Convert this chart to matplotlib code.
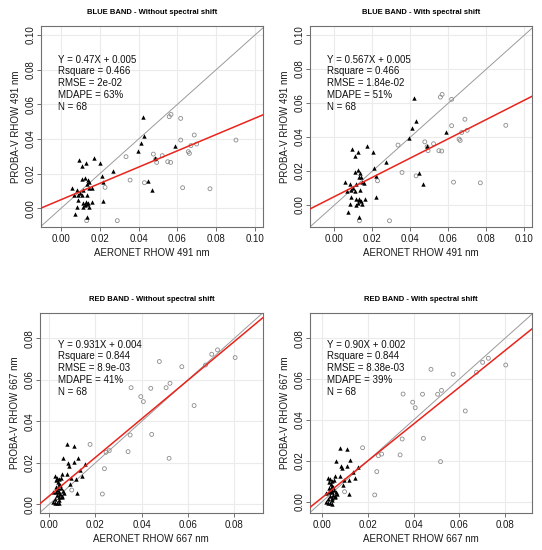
import matplotlib
matplotlib.use("Agg")
import matplotlib.pyplot as plt
import numpy as np

plt.rcParams['font.family'] = ['Liberation Sans', 'DejaVu Sans']

# ---------------- BLUE BAND (491 nm) ----------------
blue_tri_x = [0.0421, 0.0430, 0.0411, 0.0395, 0.0588, 0.0485, 0.0447, 0.0467,
              0.0172, 0.0201, 0.0093, 0.0127, 0.0108, 0.0270, 0.0210, 0.0218,
              0.0124, 0.0108, 0.0137, 0.0142, 0.0132, 0.0158, 0.0146, 0.0055,
              0.0084, 0.0112, 0.0098, 0.0067, 0.0089, 0.0107, 0.0136, 0.0086,
              0.0129, 0.0162, 0.0218, 0.0112, 0.0141, 0.0132, 0.0124, 0.0115,
              0.0084, 0.0146, 0.0074, 0.0132]
blue_tri_y_noshift = [0.0529, 0.0417, 0.0379, 0.0333, 0.0362, 0.0292, 0.0158, 0.0106,
                      0.0292, 0.0260, 0.0277, 0.0263, 0.0244, 0.0215, 0.0187, 0.0152,
                      0.0173, 0.0167, 0.0163, 0.0154, 0.0140, 0.0115, 0.0115, 0.0115,
                      0.0106, 0.0106, 0.0090, 0.0077, 0.0077, 0.0077, 0.0077, 0.0048,
                      0.0038, 0.0037, 0.0044, 0.0033, 0.0029, 0.0023, 0.0017, 0.0006,
                      0.0010, 0.0010, -0.0033, -0.0052]
blue_tri_y_shift = [0.0631, 0.0496, 0.0451, 0.0396, 0.0429, 0.0347, 0.0186, 0.0122,
                    0.0347, 0.0310, 0.0327, 0.0312, 0.0288, 0.0251, 0.0216, 0.0173,
                    0.0206, 0.0194, 0.0186, 0.0163, 0.0165, 0.0131, 0.0135, 0.0135,
                    0.0124, 0.0124, 0.0102, 0.0084, 0.0090, 0.0082, 0.0086, 0.0049,
                    0.0035, 0.0035, 0.0045, 0.0033, 0.0024, 0.0029, 0.0014, -0.0002,
                    0.0006, 0.0006, -0.0043, -0.0069]
blue_circ_x = [0.0567, 0.0558, 0.0617, 0.0687, 0.0617, 0.0902, 0.0699, 0.0670,
               0.0656, 0.0662, 0.0522, 0.0476, 0.0335, 0.0488, 0.0493, 0.0550,
               0.0565, 0.0356, 0.0430, 0.0227, 0.0627, 0.0768, 0.0132, 0.0290]
blue_circ_y_noshift = [0.0542, 0.0529, 0.0519, 0.0423, 0.0394, 0.0394, 0.0371, 0.0362,
                       0.0327, 0.0317, 0.0304, 0.0313, 0.0298, 0.0283, 0.0265, 0.0269,
                       0.0265, 0.0163, 0.0148, 0.0121, 0.0119, 0.0113, -0.0071, -0.0071]
blue_circ_y_shift = [0.0651, 0.0635, 0.0622, 0.0505, 0.0467, 0.0469, 0.0440, 0.0427,
                     0.0388, 0.0380, 0.0361, 0.0372, 0.0353, 0.0343, 0.0320, 0.0320,
                     0.0318, 0.0192, 0.0172, 0.0143, 0.0135, 0.0131, -0.0092, -0.0092]

# ---------------- RED BAND (667 nm) ----------------
red_tri_x = [0.0076, 0.0109, 0.0059, 0.0124, 0.0081, 0.0086, 0.0108, 0.0155,
             0.0134, 0.0076, 0.0058, 0.0142, 0.0095, 0.0117, 0.0027, 0.0033,
             0.0042, 0.0050, 0.0091, 0.0037, 0.0045, 0.0030, 0.0040, 0.0052,
             0.0019, 0.0030, 0.0042, 0.0059, 0.0119, 0.0047, 0.0036, 0.0055,
             0.0045, 0.0016, 0.0024, 0.0033, 0.0042, 0.0026, 0.0045, 0.0058,
             0.0036, 0.0047, 0.0065, 0.0030]
red_tri_y_noshift = [0.0291, 0.0281, 0.0225, 0.0225, 0.0198, 0.0186, 0.0202, 0.0193,
                     0.0165, 0.0145, 0.0145, 0.0138, 0.0129, 0.0122, 0.0137, 0.0129,
                     0.0122, 0.0125, 0.0098, 0.0109, 0.0096, 0.0085, 0.0077, 0.0077,
                     0.0061, 0.0061, 0.0061, 0.0064, 0.0053, 0.0050, 0.0045, 0.0042,
                     0.0034, 0.0013, 0.0008, 0.0005, 0.0006, 0.0026, 0.0021, 0.0037,
                     0.0069, 0.0093, 0.0053, 0.0117]
red_tri_y_shift = [0.0264, 0.0258, 0.0199, 0.0202, 0.0176, 0.0167, 0.0176, 0.0170,
                   0.0144, 0.0124, 0.0124, 0.0118, 0.0104, 0.0104, 0.0116, 0.0110,
                   0.0102, 0.0104, 0.0080, 0.0088, 0.0078, 0.0066, 0.0060, 0.0059,
                   0.0044, 0.0046, 0.0045, 0.0047, 0.0036, 0.0034, 0.0030, 0.0027,
                   0.0019, -0.0001, -0.0005, -0.0008, -0.0013, 0.0011, 0.0007, 0.0022,
                   0.0052, 0.0074, 0.0038, 0.0097]
red_circ_x = [0.0803, 0.0727, 0.0702, 0.0675, 0.0573, 0.0476, 0.0522, 0.0505,
              0.0439, 0.0354, 0.0396, 0.0407, 0.0626, 0.0350, 0.0443, 0.0341,
              0.0518, 0.0177, 0.0260, 0.0246, 0.0239, 0.0230, 0.0098, 0.0040]
red_circ_y_noshift = [0.0707, 0.0744, 0.0723, 0.0671, 0.0663, 0.0688, 0.0583, 0.0562,
                      0.0559, 0.0562, 0.0519, 0.0495, 0.0476, 0.0334, 0.0337, 0.0254,
                      0.0222, 0.0289, 0.0259, 0.0251, 0.0172, 0.0050, 0.0069, 0.0032]
red_circ_y_shift = [0.0669, 0.0702, 0.0682, 0.0633, 0.0624, 0.0648, 0.0545, 0.0526,
                    0.0526, 0.0527, 0.0487, 0.0460, 0.0444, 0.0307, 0.0310, 0.0229,
                    0.0196, 0.0264, 0.0233, 0.0225, 0.0147, 0.0033, 0.0049, 0.0015]

# regression coefficients (slope, intercept) and annotation texts
titles = ["BLUE BAND - Without spectral shift", "BLUE BAND - With spectral shift",
          "RED BAND - Without spectral shift", "RED BAND - With spectral shift"]
slopes = [0.47, 0.567, 0.931, 0.90]
intercepts = [0.005, 0.005, 0.004, 0.002]
stats_text = [
    "Y = 0.47X + 0.005\nRsquare = 0.466\nRMSE = 2e-02\nMDAPE = 63%\nN = 68",
    "Y = 0.567X + 0.005\nRsquare = 0.466\nRMSE = 1.84e-02\nMDAPE = 51%\nN = 68",
    "Y = 0.931X + 0.004\nRsquare = 0.844\nRMSE = 8.9e-03\nMDAPE = 41%\nN = 68",
    "Y = 0.90X + 0.002\nRsquare = 0.844\nRMSE = 8.38e-03\nMDAPE = 39%\nN = 68",
]
xlabels = ["AERONET RHOW 491 nm"] * 2 + ["AERONET RHOW 667 nm"] * 2
ylabels = ["PROBA-V RHOW 491 nm"] * 2 + ["PROBA-V RHOW 667 nm"] * 2
blue_ticks = [0.00, 0.02, 0.04, 0.06, 0.08, 0.10]
red_ticks = [0.00, 0.02, 0.04, 0.06, 0.08]

panels = [
    (blue_tri_x, blue_tri_y_noshift, blue_circ_x, blue_circ_y_noshift),
    (blue_tri_x, blue_tri_y_shift, blue_circ_x, blue_circ_y_shift),
    (red_tri_x, red_tri_y_noshift, red_circ_x, red_circ_y_noshift),
    (red_tri_x, red_tri_y_shift, red_circ_x, red_circ_y_shift),
]
positions = [
    [0.0751, 0.5878, 0.4096, 0.3649],
    [0.5720, 0.5878, 0.4096, 0.3649],
    [0.0738, 0.0678, 0.4109, 0.3625],
    [0.5720, 0.0678, 0.4096, 0.3625],
]
limits = [
    ((-0.0105, 0.104), (-0.0106, 0.1052)),
    ((-0.0128, 0.104), (-0.0127, 0.1053)),
    ((-0.0039, 0.0922), (-0.0040, 0.0920)),
    ((-0.0053, 0.0918), (-0.0054, 0.0922)),
]
text_pos = [(0.079, 0.858), (0.077, 0.858), (0.082, 0.868), (0.075, 0.868)]

fig = plt.figure(figsize=(5.42, 5.5), dpi=100)
fig.patch.set_facecolor('white')

for i in range(4):
    ax = fig.add_axes(positions[i])
    tx, ty, cx, cy = panels[i]
    (x0, x1), (y0, y1) = limits[i]
    ax.set_xlim(x0, x1)
    ax.set_ylim(y0, y1)
    ticks = blue_ticks if i < 2 else red_ticks
    ax.set_xticks(ticks)
    ax.set_yticks(ticks)
    ax.set_xticklabels([f"{t:.2f}" for t in ticks])
    ax.set_yticklabels([f"{t:.2f}" for t in ticks], rotation=90, va='center')
    ax.grid(True, color='#ebebeb', linewidth=0.8, zorder=0)
    ax.set_axisbelow(True)
    for s in ax.spines.values():
        s.set_color('#707070')
        s.set_linewidth(0.8)
    ax.tick_params(axis='both', length=3, width=0.7, color='#707070',
                   labelsize=7, labelcolor='#1a1a1a', pad=2)
    ax.tick_params(axis='y', pad=1)

    # 1:1 line
    lo = min(x0, y0); hi = max(x1, y1)
    ax.plot([lo, hi], [lo, hi], color='#9a9a9a', linewidth=0.7, zorder=2)
    # regression line
    xs = np.array([x0, x1])
    ax.plot(xs, slopes[i] * xs + intercepts[i], color='#e8241c', linewidth=1.1, zorder=4)

    ax.scatter(cx, cy, s=8, marker='o', facecolors='none', edgecolors='#8c8c8c',
               linewidths=0.6, zorder=3)
    ax.scatter(tx, ty, s=10, marker='^', color='black', linewidths=0, zorder=3)

    ax.text(text_pos[i][0], text_pos[i][1], stats_text[i], transform=ax.transAxes,
            fontsize=7, va='top', ha='left', linespacing=1.22, color='#111111')
    ax.set_title(titles[i], fontsize=5.5, fontweight='bold', pad=9)
    ax.set_xlabel(xlabels[i], fontsize=7, labelpad=3, color='#1a1a1a')
    ax.set_ylabel(ylabels[i], fontsize=7, labelpad=3, color='#1a1a1a')

fig.savefig("out.png", dpi=100, facecolor='white')
